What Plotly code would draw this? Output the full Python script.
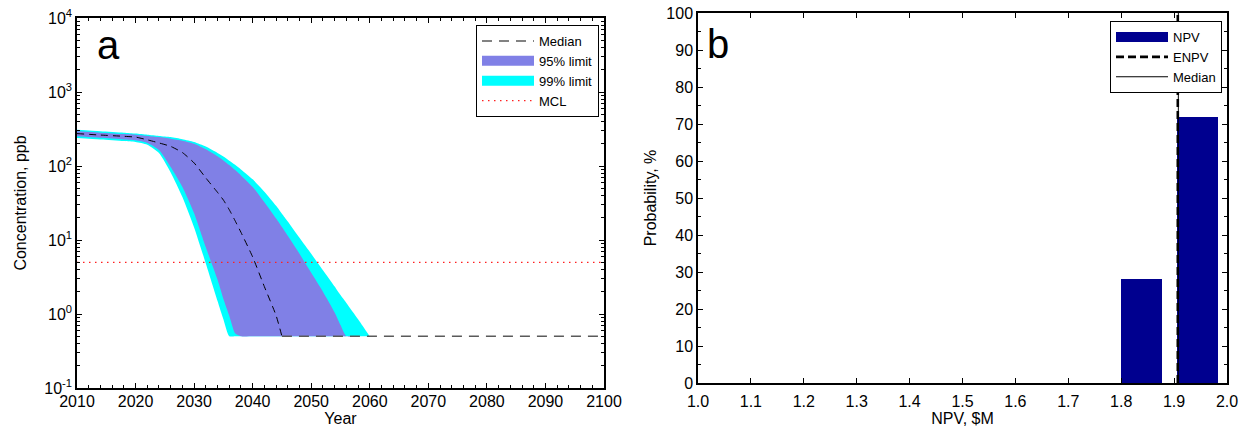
import plotly.graph_objects as go

# ---- panel a: concentration forecast (ppb) ----
years = [2010, 2014, 2018, 2020, 2022, 2024, 2026, 2028, 2030, 2032, 2034, 2035, 2036, 2037,
         2038, 2040, 2042, 2044, 2045, 2046, 2048, 2050, 2052, 2054, 2055, 2056, 2058, 2060]
upper_99 = [309, 295, 282, 274, 264, 255, 246, 230, 211, 183, 150, 134, 118, 104,
            90, 66, 45, 29, 22.7, 17.8, 10.7, 6.5, 3.9, 2.35, 1.8, 1.41, 0.85, 0.5]
upper_95 = [294, 282, 270, 265, 255, 246, 234, 220, 200, 168, 135, 119, 103, 88,
            74.5, 52, 32.4, 19.5, 15, 11.4, 6.5, 3.6, 2.0, 1.05, 0.71, 0.5, 0.5, 0.5]
lower_95 = [252, 240, 228, 222, 205, 165, 97, 52, 23, 8.0, 2.9, 1.6, 0.95, 0.55,
            0.5, 0.5, 0.5, 0.5, 0.5, 0.5, 0.5, 0.5, 0.5, 0.5, 0.5, 0.5, 0.5, 0.5]
lower_99 = [239, 228, 217, 211, 194, 150, 82, 38, 14.8, 4.8, 1.5, 0.85, 0.5, 0.5,
            0.5, 0.5, 0.5, 0.5, 0.5, 0.5, 0.5, 0.5, 0.5, 0.5, 0.5, 0.5, 0.5, 0.5]
median_years = years + [2100]
median_conc = [274, 262, 252, 246, 226, 205, 184, 152, 110, 69, 44, 34.7, 25.7, 18.2,
               12.7, 5.9, 2.34, 0.955, 0.5, 0.5, 0.5, 0.5, 0.5, 0.5, 0.5, 0.5, 0.5, 0.5, 0.5]
mcl = 5.0
year_ticks = [2010, 2020, 2030, 2040, 2050, 2060, 2070, 2080, 2090, 2100]
conc_exponents = [-1, 0, 1, 2, 3, 4]

# ---- panel b: NPV distribution ----
npv_bins = [1.8385, 1.944]
npv_prob = [28, 72]
enpv = 1.907
npv_median = 1.908
npv_ticks = [round(1.0 + 0.1 * i, 1) for i in range(11)]
prob_ticks = list(range(0, 101, 10))

FONT = "Liberation Sans, Arial, Helvetica, sans-serif"
BLUE95 = "#8080E6"
CYAN99 = "#00FFFF"
NAVY = "#00008F"
W, H = 1255, 438

fig = go.Figure()

# 99% band
fig.add_trace(go.Scatter(
    x=years + years[::-1], y=upper_99 + lower_99[::-1],
    fill="toself", fillcolor=CYAN99, line=dict(width=0, color=CYAN99, shape="spline", smoothing=0.6),
    mode="lines", showlegend=False, xaxis="x", yaxis="y", hoverinfo="skip"))
# 95% band
fig.add_trace(go.Scatter(
    x=years + years[::-1], y=upper_95 + lower_95[::-1],
    fill="toself", fillcolor=BLUE95, line=dict(width=0, color=BLUE95, shape="spline", smoothing=0.6),
    mode="lines", showlegend=False, xaxis="x", yaxis="y", hoverinfo="skip"))

# median: declining part (black) and the floor part (gray)
floor_val = min(median_conc)
first_floor = median_conc.index(floor_val)
fig.add_trace(go.Scatter(
    x=median_years[:first_floor + 1], y=median_conc[:first_floor + 1],
    mode="lines", line=dict(color="black", width=1, dash="7px,5px", shape="spline", smoothing=0.5),
    showlegend=False, xaxis="x", yaxis="y"))
fig.add_trace(go.Scatter(
    x=median_years[first_floor:], y=median_conc[first_floor:],
    mode="lines", line=dict(color="#5a5a5a", width=1.6, dash="10px,7px"),
    name="Median", legend="legend", legendrank=1,
    xaxis="x", yaxis="y"))

# legend swatches for the two bands
fig.add_trace(go.Scatter(
    x=[None], y=[None], mode="lines", line=dict(color=BLUE95, width=15),
    name="95% limit", legend="legend", legendrank=2, xaxis="x", yaxis="y"))
fig.add_trace(go.Scatter(
    x=[None], y=[None], mode="lines", line=dict(color=CYAN99, width=15),
    name="99% limit", legend="legend", legendrank=3, xaxis="x", yaxis="y"))

# MCL
fig.add_trace(go.Scatter(
    x=[year_ticks[0], year_ticks[-1]], y=[mcl, mcl],
    mode="lines", line=dict(color="#FF2020", width=1.2, dash="1.5px,4.5px"),
    name="MCL", legend="legend", legendrank=4, xaxis="x", yaxis="y"))

# NPV histogram
fig.add_trace(go.Bar(
    x=npv_bins, y=npv_prob, width=0.078, marker=dict(color=NAVY, line=dict(width=0)),
    showlegend=False, xaxis="x2", yaxis="y2"))
fig.add_trace(go.Scatter(
    x=[None], y=[None], mode="lines", line=dict(color=NAVY, width=15),
    name="NPV", legend="legend2", legendrank=1, xaxis="x2", yaxis="y2"))
fig.add_trace(go.Scatter(
    x=[enpv, enpv], y=[prob_ticks[0], prob_ticks[-1]], mode="lines",
    line=dict(color="black", width=2.6, dash="8px,4px"),
    name="ENPV", legend="legend2", legendrank=2, xaxis="x2", yaxis="y2"))
fig.add_trace(go.Scatter(
    x=[npv_median, npv_median], y=[prob_ticks[0], prob_ticks[-1]], mode="lines",
    line=dict(color="black", width=1),
    name="Median", legend="legend2", legendrank=3, xaxis="x2", yaxis="y2"))

minor_log = [m * 10 ** e for e in conc_exponents[:-1] for m in range(2, 10)]

axis_common = dict(
    showline=True, linecolor="black", linewidth=1.5, mirror="allticks",
    ticks="inside", ticklen=5, tickcolor="black", tickwidth=1,
    showgrid=False, zeroline=False, automargin=False,
    tickfont=dict(family=FONT, size=16, color="black"),
    title_font=dict(family=FONT, size=16, color="black"),
)

legend_common = dict(
    xanchor="right", yanchor="top", bgcolor="white",
    bordercolor="black", borderwidth=1,
    font=dict(family=FONT, size=13, color="black"),
    tracegroupgap=0, itemwidth=52,
)

fig.update_layout(
    template="none",
    width=W, height=H,
    margin=dict(l=0, r=0, t=0, b=0, autoexpand=False),
    paper_bgcolor="white", plot_bgcolor="white",
    font=dict(family=FONT, size=16, color="black"),
    showlegend=True,
    xaxis=dict(domain=[77 / W, 604 / W], range=[year_ticks[0], year_ticks[-1]],
               tickvals=year_ticks, title=dict(text="Year", standoff=0),
               ticklabelstandoff=-2,
               minor=dict(ticks="inside", ticklen=3, dtick=2, tickcolor="black"),
               anchor="y", **axis_common),
    yaxis=dict(domain=[(H - 388) / H, (H - 18) / H], type="log",
               range=[conc_exponents[0], conc_exponents[-1]],
               tickvals=[10 ** e for e in conc_exponents],
               ticktext=["10<sup>%d</sup>" % e for e in conc_exponents],
               title=dict(text="Concentration, ppb", standoff=14),
               minor=dict(ticks="inside", ticklen=3, tickvals=minor_log, tickcolor="black"),
               anchor="x", **axis_common),
    xaxis2=dict(domain=[698 / W, 1227 / W], range=[npv_ticks[0], npv_ticks[-1]],
                tickvals=npv_ticks, ticktext=["%.1f" % t for t in npv_ticks],
                title=dict(text="NPV, $M", standoff=0),
                ticklabelstandoff=3,
                anchor="y2", **axis_common),
    yaxis2=dict(domain=[(H - 383) / H, (H - 13) / H], range=[prob_ticks[0], prob_ticks[-1]],
                tickvals=prob_ticks, title=dict(text="Probability, %", standoff=6),
                minor=dict(ticks="inside", ticklen=3, dtick=5, tickcolor="black"),
                anchor="x2", **axis_common),
    legend=dict(x=599 / W, y=1 - 25 / H, **legend_common),
    legend2=dict(x=1222 / W, y=1 - 21 / H, **legend_common),
    annotations=[
        dict(text="a", xref="paper", yref="paper", x=95 / W, y=1 - 45 / H,
             xanchor="left", yanchor="middle", showarrow=False,
             font=dict(family=FONT, size=40, color="black")),
        dict(text="b", xref="paper", yref="paper", x=705 / W, y=1 - 44 / H,
             xanchor="left", yanchor="middle", showarrow=False,
             font=dict(family=FONT, size=40, color="black")),
    ],
    bargap=0,
)

fig.write_html("out.html")
